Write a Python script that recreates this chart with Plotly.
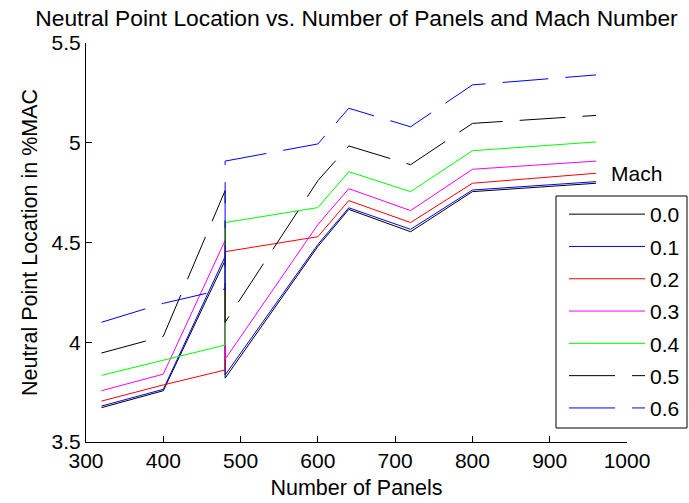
import plotly.graph_objects as go

# Data
panels = [320, 400, 480, 480, 600, 640, 720, 800, 960]
mach_labels = ["0.0", "0.1", "0.2", "0.3", "0.4", "0.5", "0.6"]
np_m00 = [3.672, 3.757, 4.410, 3.820, 4.480, 4.666, 4.554, 4.755, 4.797]
np_m01 = [3.680, 3.764, 4.430, 3.836, 4.490, 4.674, 4.566, 4.763, 4.805]
np_m02 = [3.705, 3.786, 3.861, 4.454, 4.529, 4.710, 4.600, 4.797, 4.847]
np_m03 = [3.757, 3.840, 4.510, 3.915, 4.590, 4.770, 4.660, 4.867, 4.908]
np_m04 = [3.834, 3.910, 3.986, 4.600, 4.675, 4.855, 4.755, 4.960, 5.004]
np_m05 = [3.946, 4.030, 4.760, 4.100, 4.810, 4.984, 4.890, 5.097, 5.137]
np_m06 = [4.100, 4.195, 4.267, 4.908, 4.994, 5.173, 5.080, 5.290, 5.340]
series = [np_m00, np_m01, np_m02, np_m03, np_m04, np_m05, np_m06]

x_ticks = [300, 400, 500, 600, 700, 800, 900, 1000]
y_ticks = [3.5, 4, 4.5, 5, 5.5]
y_tick_labels = ["3.5", "4", "4.5", "5", "5.5"]

colors = ["#000000", "#0000FF", "#FF0000", "#FF00FF", "#00FF00", "#000000", "#0000FF"]
dashes = ["solid"] * 5 + ["46px,17px"] * 2

FONT = "Arial, Liberation Sans, sans-serif"

# plot area in pixels
L, R, T, B = 86, 627, 43, 442
W, H = R - L, B - T


def px_x(p):
    return (p - L) / W


def px_y(p):
    return (B - p) / H


fig = go.Figure()
for lab, vals, c, d in zip(mach_labels, series, colors, dashes):
    fig.add_trace(go.Scatter(
        x=panels, y=vals, mode="lines", name=lab, legendgroup=lab,
        line=dict(color=c, width=1, dash=d),
    ))

fig.update_layout(
    width=689, height=503,
    margin=dict(l=L, r=689 - R, t=T, b=503 - B, autoexpand=False),
    paper_bgcolor="white", plot_bgcolor="white",
    font=dict(family=FONT, size=21, color="black"),
    title=dict(text="Neutral Point Location vs. Number of Panels and Mach Number",
               x=0.5, xref="paper", xanchor="center", y=0.965, yanchor="middle",
               font=dict(size=22.8, family=FONT)),
    xaxis=dict(range=[300, 1000], tickvals=x_ticks, ticks="inside", ticklen=6,
               tickcolor="black", showline=True, linecolor="black", linewidth=1,
               showgrid=False, zeroline=False, mirror=False,
               title=dict(text="Number of Panels", standoff=8, font=dict(size=21.5))),
    yaxis=dict(range=[3.5, 5.5], tickvals=y_ticks, ticktext=y_tick_labels,
               ticks="inside", ticklen=6, tickcolor="black", showline=True,
               linecolor="black", linewidth=1, showgrid=False, zeroline=False,
               title=dict(text="Neutral Point Location in %MAC", standoff=8,
                          font=dict(size=21.5))),
    legend=dict(x=px_x(564), y=px_y(194), xanchor="left", yanchor="top",
                borderwidth=0, bgcolor="rgba(0,0,0,0)",
                font=dict(size=21, family=FONT), itemwidth=76,
                traceorder="grouped", tracegroupgap=2),
    shapes=[dict(type="rect", xref="paper", yref="paper",
                 x0=px_x(556), x1=px_x(687), y0=px_y(428), y1=px_y(196),
                 line=dict(color="black", width=1), fillcolor="white", layer="above")],
    annotations=[dict(text="Mach", x=px_x(636), y=px_y(173), xref="paper", yref="paper",
                      xanchor="center", yanchor="middle",
                      showarrow=False, font=dict(size=21, family=FONT))],
)

fig.write_html("out.html")
